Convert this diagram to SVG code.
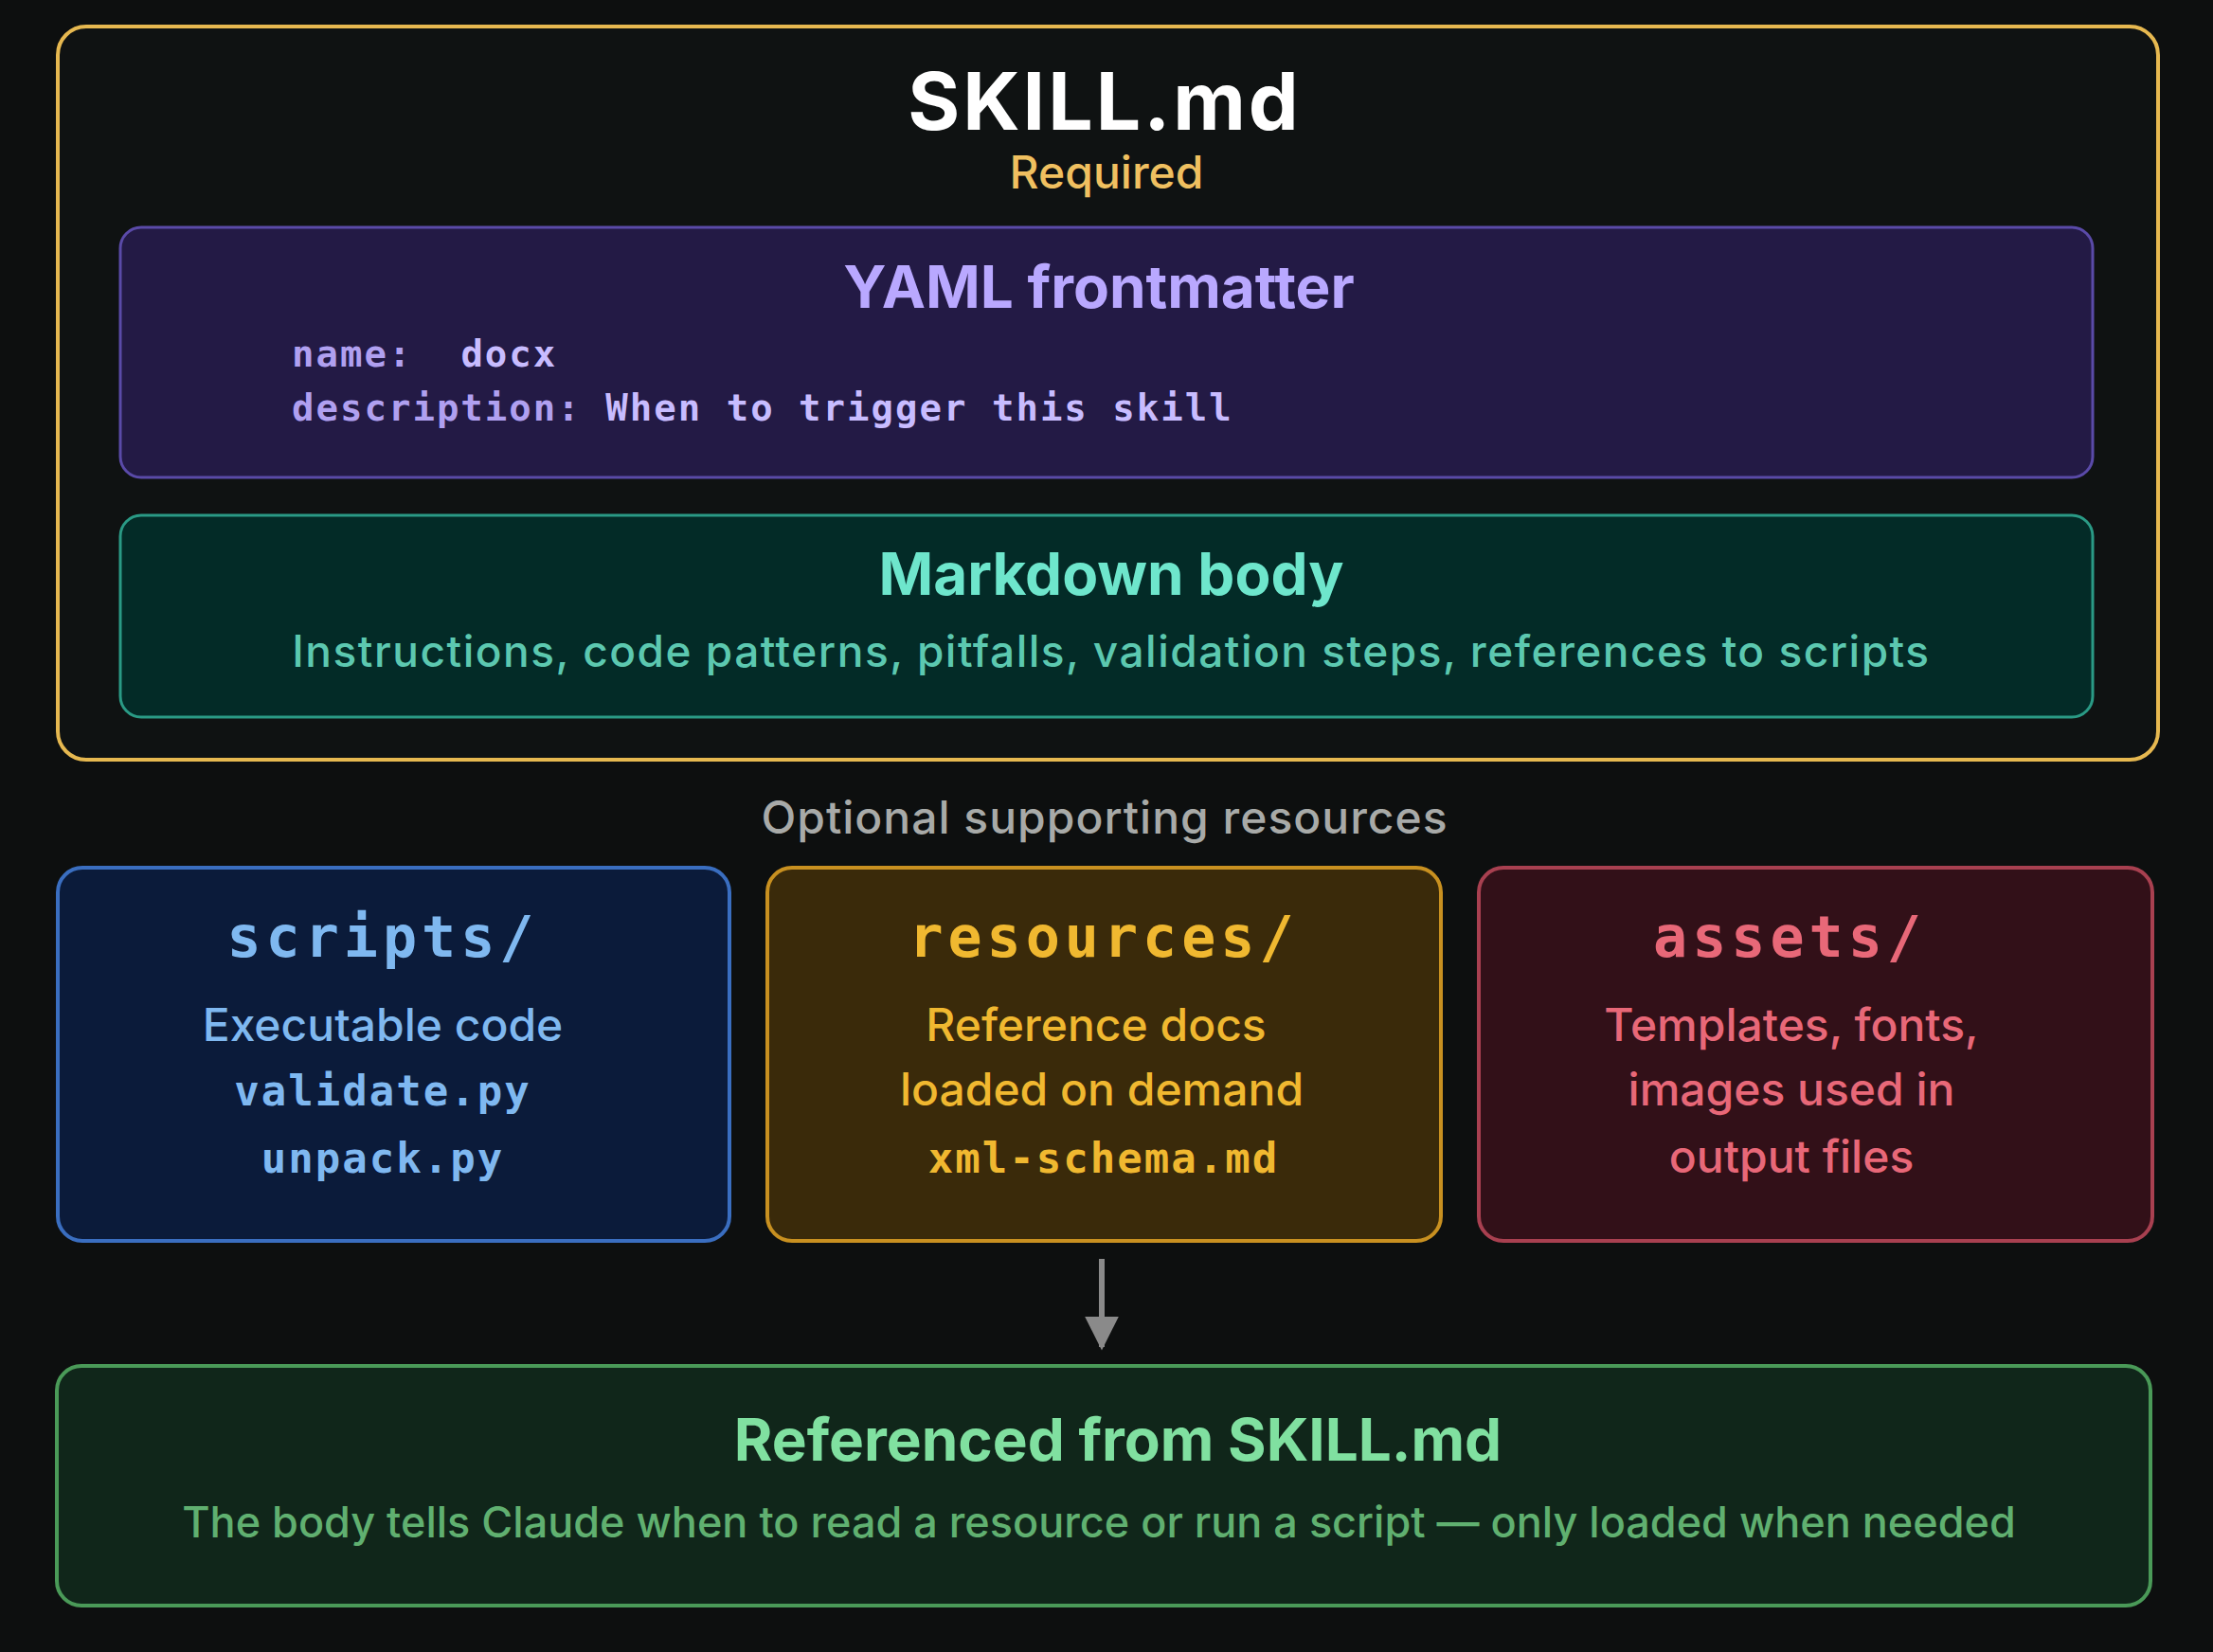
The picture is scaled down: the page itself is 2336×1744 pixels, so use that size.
<svg xmlns="http://www.w3.org/2000/svg" width="2336" height="1744" viewBox="0 0 2336 1744">
<defs>
<style>
.s{font-family:"Inter","Noto Sans","Liberation Sans",sans-serif;text-anchor:middle}
.b{font-weight:700}
.m{font-family:"DejaVu Sans Mono","Liberation Mono",monospace}
.t{letter-spacing:5px}
</style>
<marker id="ah" viewBox="0 0 10 10" refX="9" refY="5" markerWidth="6" markerHeight="6" orient="auto"><path d="M0,0 L10,5 L0,10 z" fill="#8a8a8a"/></marker>
</defs>
<rect width="2336" height="1744" fill="#0d0f0f"/>
<g id="skill">
<rect x="61" y="28" width="2217" height="774" rx="30" fill="#0f1212" stroke="#e6b850" stroke-width="4"/>
<text class="s b" x="1166" y="137" font-size="84" fill="#ffffff" letter-spacing="3">SKILL.md</text>
<text class="s" x="1168" y="199" font-size="48" fill="#f0c060" font-weight="500">Required</text>
</g>
<g id="yaml">
<rect x="127" y="240" width="2082" height="264" rx="22" fill="#231a45" stroke="#5a4aa8" stroke-width="3"/>
<text class="s b" x="1160" y="325" font-size="62" fill="#b9a8ff">YAML frontmatter</text>
<text class="m" x="308" y="387" font-size="39" fill="#b0a0f0" font-weight="700" letter-spacing="2" xml:space="preserve">name:  <tspan fill="#c8bcff">docx</tspan></text>
<text class="m" x="308" y="444" font-size="39" fill="#b0a0f0" font-weight="700" letter-spacing="2">description: <tspan fill="#c8bcff">When to trigger this skill</tspan></text>
</g>
<g id="markdown">
<rect x="127" y="544" width="2082" height="213" rx="22" fill="#032b27" stroke="#2a9a85" stroke-width="3"/>
<text class="s b" x="1173" y="628" font-size="62" fill="#6ee6cc">Markdown body</text>
<text class="s" x="1173" y="704" font-size="46" fill="#5cc8b0" font-weight="500" letter-spacing="1.5">Instructions, code patterns, pitfalls, validation steps, references to scripts</text>
</g>
<text class="s" x="1166" y="880" font-size="48" fill="#a8aaa8" font-weight="500" letter-spacing="1">Optional supporting resources</text>
<g id="scripts">
<rect x="61" y="916" width="709" height="394" rx="26" fill="#0b1b3a" stroke="#3a6ec0" stroke-width="4"/>
<text class="s m b t" x="404" y="1010" font-size="60" fill="#7fb8f0">scripts/</text>
<text class="s" x="404" y="1099" font-size="48" fill="#7fb8f0" font-weight="500">Executable code</text>
<text class="s m b" x="404" y="1167" font-size="44" fill="#7fb8f0" letter-spacing="2">validate.py</text>
<text class="s m b" x="404" y="1238" font-size="44" fill="#7fb8f0" letter-spacing="2">unpack.py</text>
</g>
<g id="resources">
<rect x="810" y="916" width="711" height="394" rx="26" fill="#3a2a0a" stroke="#c89020" stroke-width="4"/>
<text class="s m b t" x="1165" y="1010" font-size="60" fill="#f0b830">resources/</text>
<text class="s" x="1157" y="1099" font-size="48" fill="#f0b830" font-weight="500">Reference docs</text>
<text class="s" x="1163" y="1167" font-size="48" fill="#f0b830" font-weight="500">loaded on demand</text>
<text class="s m b" x="1165" y="1238" font-size="44" fill="#f0b830" letter-spacing="2">xml-schema.md</text>
</g>
<g id="assets">
<rect x="1561" y="916" width="711" height="394" rx="26" fill="#321018" stroke="#a84050" stroke-width="4"/>
<text class="s m b t" x="1889" y="1010" font-size="60" fill="#e86878">assets/</text>
<text class="s" x="1891" y="1099" font-size="48" fill="#e86878" font-weight="500">Templates, fonts,</text>
<text class="s" x="1891" y="1167" font-size="48" fill="#e86878" font-weight="500">images used in</text>
<text class="s" x="1891" y="1238" font-size="48" fill="#e86878" font-weight="500">output files</text>
</g>
<g id="connectors">
<line x1="1163" y1="1329" x2="1163" y2="1422" stroke="#8a8a8a" stroke-width="6" marker-end="url(#ah)"/>
</g>
<g id="referenced">
<rect x="60" y="1442" width="2210" height="253" rx="26" fill="#10261a" stroke="#4a9a58" stroke-width="4"/>
<text class="s b" x="1180" y="1542" font-size="62" fill="#80e0a0">Referenced from SKILL.md</text>
<text class="s" x="1160" y="1623" font-size="45" fill="#60b070" font-weight="500">The body tells Claude when to read a resource or run a script — only loaded when needed</text>
</g>
</svg>
